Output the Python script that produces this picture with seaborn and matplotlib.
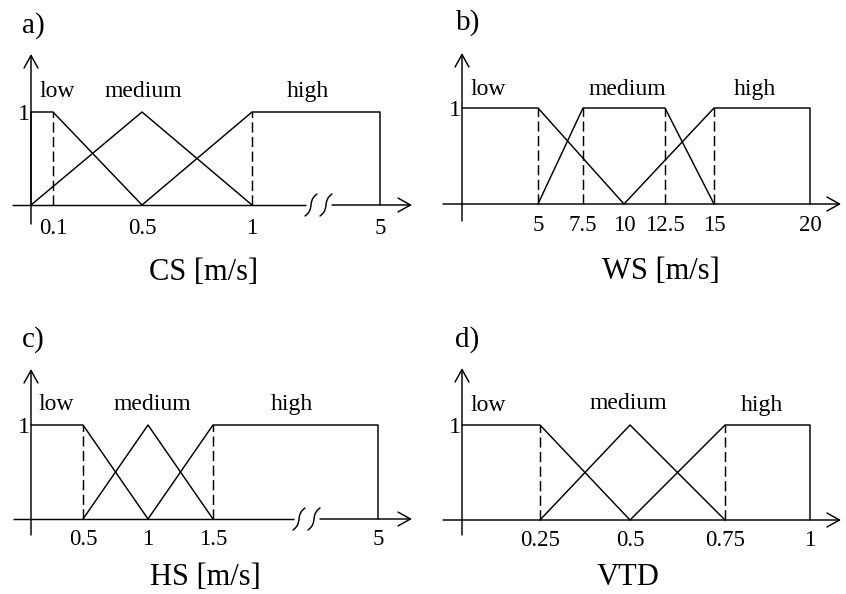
import numpy as np
import pandas as pd
import matplotlib
matplotlib.use("Agg")
import matplotlib.pyplot as plt
import seaborn as sns

# ---- membership functions -------------------------------------------------
# a) current speed
CS_TICKS = [0.1, 0.5, 1, 5]
CS_LOW_X, CS_LOW_Y = [0, 0, 0.1, 0.5], [0, 1, 1, 0]
CS_MED_X, CS_MED_Y = [0, 0.5, 1], [0, 1, 0]
CS_HIGH_X, CS_HIGH_Y = [0.5, 1, 5, 5], [0, 1, 1, 0]
CS_DASHED = [0.1, 1]

# b) wind speed
WS_TICKS = [5, 7.5, 10, 12.5, 15, 20]
WS_LOW_X, WS_LOW_Y = [0, 5, 10], [1, 1, 0]
WS_MED_X, WS_MED_Y = [5, 7.5, 12.5, 15], [0, 1, 1, 0]
WS_HIGH_X, WS_HIGH_Y = [10, 15, 20, 20], [0, 1, 1, 0]
WS_DASHED = [5, 7.5, 12.5, 15]

# c) wave height
HS_TICKS = [0.5, 1, 1.5, 5]
HS_LOW_X, HS_LOW_Y = [0, 0.5, 1], [1, 1, 0]
HS_MED_X, HS_MED_Y = [0.5, 1, 1.5], [0, 1, 0]
HS_HIGH_X, HS_HIGH_Y = [1, 1.5, 5, 5], [0, 1, 1, 0]
HS_DASHED = [0.5, 1.5]

# d) VTD
VTD_TICKS = [0.25, 0.5, 0.75, 1]
VTD_LOW_X, VTD_LOW_Y = [0, 0.25, 0.5], [1, 1, 0]
VTD_MED_X, VTD_MED_Y = [0.25, 0.5, 0.75], [0, 1, 0]
VTD_HIGH_X, VTD_HIGH_Y = [0.5, 0.75, 1, 1], [0, 1, 1, 0]
VTD_DASHED = [0.25, 0.75]

SET_NAMES = ["low", "medium", "high"]

# ---- styling ---------------------------------------------------------------
sns.set_theme(style="white", rc={"text.color": "black", "xtick.color": "black",
                                 "ytick.color": "black", "axes.labelcolor": "black"})
plt.rcParams["font.family"] = ["Liberation Serif", "DejaVu Serif"]

W, H = 846, 594
fig = plt.figure(figsize=(W / 100, H / 100), dpi=100)
fig.patch.set_facecolor("white")

LW = 1.05
TICK_SIZE = 16.5
NAME_SIZE = 17
LETTER_SIZE = 21
XLABEL_SIZE = 22
ARROW = dict(arrowstyle="->,head_length=0.45,head_width=0.25", lw=LW,
             color="black", shrinkA=0, shrinkB=0, mutation_scale=20)


def fxy(px, py):
    """Pixel position (origin top-left) to figure fraction."""
    return px / W, 1 - py / H


def piecewise_scale(values, pixels):
    """Axis scale that places each value at its pixel position (linear between)."""
    v = np.asarray(values, float)
    p = np.asarray(pixels, float)

    def interp(x, a, b):
        x = np.asarray(x, float)
        y = np.interp(x, a, b)
        lo = (b[1] - b[0]) / (a[1] - a[0])
        hi = (b[-1] - b[-2]) / (a[-1] - a[-2])
        y = np.where(x < a[0], b[0] + (x - a[0]) * lo, y)
        y = np.where(x > a[-1], b[-1] + (x - a[-1]) * hi, y)
        return y

    return (lambda x: interp(x, v, p)), (lambda x: interp(x, p, v))


def draw_panel(layout, ticks, sets, dashed, letter, xlabel, name_pos):
    fwd, inv = piecewise_scale([0] + ticks, layout["tick_px"])
    left, right, top, bottom = layout["box"]
    oy, one = layout["origin_y"], layout["one_y"]

    x0, y0 = fxy(left, bottom)
    ax = fig.add_axes([x0, y0, (right - left) / W, (bottom - top) / H])
    ax.patch.set_visible(False)
    ax.set_xscale("function", functions=(fwd, inv))

    frames = []
    for name, (xs, ys) in zip(SET_NAMES, sets):
        frames.append(pd.DataFrame({"x": xs, "mu": ys, "set": name}))
    df = pd.concat(frames, ignore_index=True)
    sns.lineplot(data=df, x="x", y="mu", units="set", estimator=None, sort=False,
                 color="black", linewidth=LW, legend=False, ax=ax)
    ax.vlines(dashed, 0, 1, colors="black", linestyles=(0, (7, 3)), linewidth=LW)

    xmin, xmax = float(inv(left)), float(inv(right))
    ymin, ymax = (oy - bottom) / (oy - one), (oy - top) / (oy - one)
    ax.set_xlim(xmin, xmax)
    ax.set_ylim(ymin, ymax)
    ax.set(xlabel="", ylabel="")

    # coordinate axes with open arrow heads
    ax.annotate("", xy=(0, ymax), xytext=(0, ymin), arrowprops=ARROW,
                annotation_clip=False)
    brk = layout.get("break_px")
    if brk is None:
        ax.annotate("", xy=(xmax, 0), xytext=(xmin, 0), arrowprops=ARROW,
                    annotation_clip=False)
    else:
        ax.plot([xmin, float(inv(brk - 13))], [0, 0], color="black", lw=LW,
                solid_capstyle="butt")
        ax.annotate("", xy=(xmax, 0), xytext=(float(inv(brk + 13)), 0),
                    arrowprops=ARROW, annotation_clip=False)
        # two curly break marks across the axis
        t = np.linspace(-1, 1, 60)
        for dx in (-8, 7):
            px = brk + dx + 1.5 * t + 4.5 * t ** 3
            py = oy - 11 * t
            fx, fy = fxy(px, py)
            ax.plot(fx, fy, color="black", lw=LW, transform=fig.transFigure,
                    clip_on=False)

    # tick labels sit on the coordinate axes
    for side in ("top", "right", "bottom", "left"):
        ax.spines[side].set_visible(False)
    ax.spines["bottom"].set_position(("data", 0))
    ax.spines["left"].set_position(("data", 0))
    ax.set_xticks(ticks, labels=[f"{v:g}" for v in ticks])
    ax.set_yticks([1], labels=["1"])
    ax.minorticks_off()
    ax.tick_params(axis="x", length=0, pad=layout["tick_pad"], labelsize=TICK_SIZE)
    ax.tick_params(axis="y", length=0, pad=1.0, labelsize=TICK_SIZE + 1)
    ax.grid(False)

    lx, ly = layout["letter_px"]
    fig.text(*fxy(lx, ly), letter, ha="left", va="baseline", fontsize=LETTER_SIZE)
    cx, cy = layout["xlabel_px"]
    fig.text(*fxy(cx, cy), xlabel, ha="center", va="baseline", fontsize=XLABEL_SIZE)
    for name, (nx, ny) in zip(SET_NAMES, name_pos):
        fig.text(*fxy(nx, ny), name, ha="center", va="baseline", fontsize=NAME_SIZE)
    return ax


LAYOUT_A = dict(tick_px=[31, 53, 142, 252, 380], origin_y=205, one_y=112,
                box=(12, 412, 54, 224), break_px=319, tick_pad=9.5,
                letter_px=(22, 33), xlabel_px=(204, 280))
LAYOUT_B = dict(tick_px=[462, 538, 583, 624, 665, 714, 810], origin_y=204, one_y=108,
                box=(443, 841, 53, 221), tick_pad=8,
                letter_px=(456, 30), xlabel_px=(661, 279))
LAYOUT_C = dict(tick_px=[31, 83, 148, 213, 378], origin_y=519, one_y=425,
                box=(13, 412, 369, 535), break_px=307, tick_pad=7.5,
                letter_px=(22, 347), xlabel_px=(205, 585))
LAYOUT_D = dict(tick_px=[462, 540, 630, 725, 810], origin_y=520, one_y=425,
                box=(443, 841, 368, 535), tick_pad=7,
                letter_px=(455, 347), xlabel_px=(628, 585))

draw_panel(LAYOUT_A, CS_TICKS,
           [(CS_LOW_X, CS_LOW_Y), (CS_MED_X, CS_MED_Y), (CS_HIGH_X, CS_HIGH_Y)],
           CS_DASHED, "a)", "CS [m/s]", [(57, 97), (143, 97), (308, 97)])
draw_panel(LAYOUT_B, WS_TICKS,
           [(WS_LOW_X, WS_LOW_Y), (WS_MED_X, WS_MED_Y), (WS_HIGH_X, WS_HIGH_Y)],
           WS_DASHED, "b)", "WS [m/s]", [(488, 95), (627, 95), (755, 95)])
draw_panel(LAYOUT_C, HS_TICKS,
           [(HS_LOW_X, HS_LOW_Y), (HS_MED_X, HS_MED_Y), (HS_HIGH_X, HS_HIGH_Y)],
           HS_DASHED, "c)", "HS [m/s]", [(56, 410), (152, 410), (292, 410)])
draw_panel(LAYOUT_D, VTD_TICKS,
           [(VTD_LOW_X, VTD_LOW_Y), (VTD_MED_X, VTD_MED_Y), (VTD_HIGH_X, VTD_HIGH_Y)],
           VTD_DASHED, "d)", "VTD", [(488, 411), (628, 409), (762, 411)])

fig.savefig("out.png", dpi=100, facecolor="white")
